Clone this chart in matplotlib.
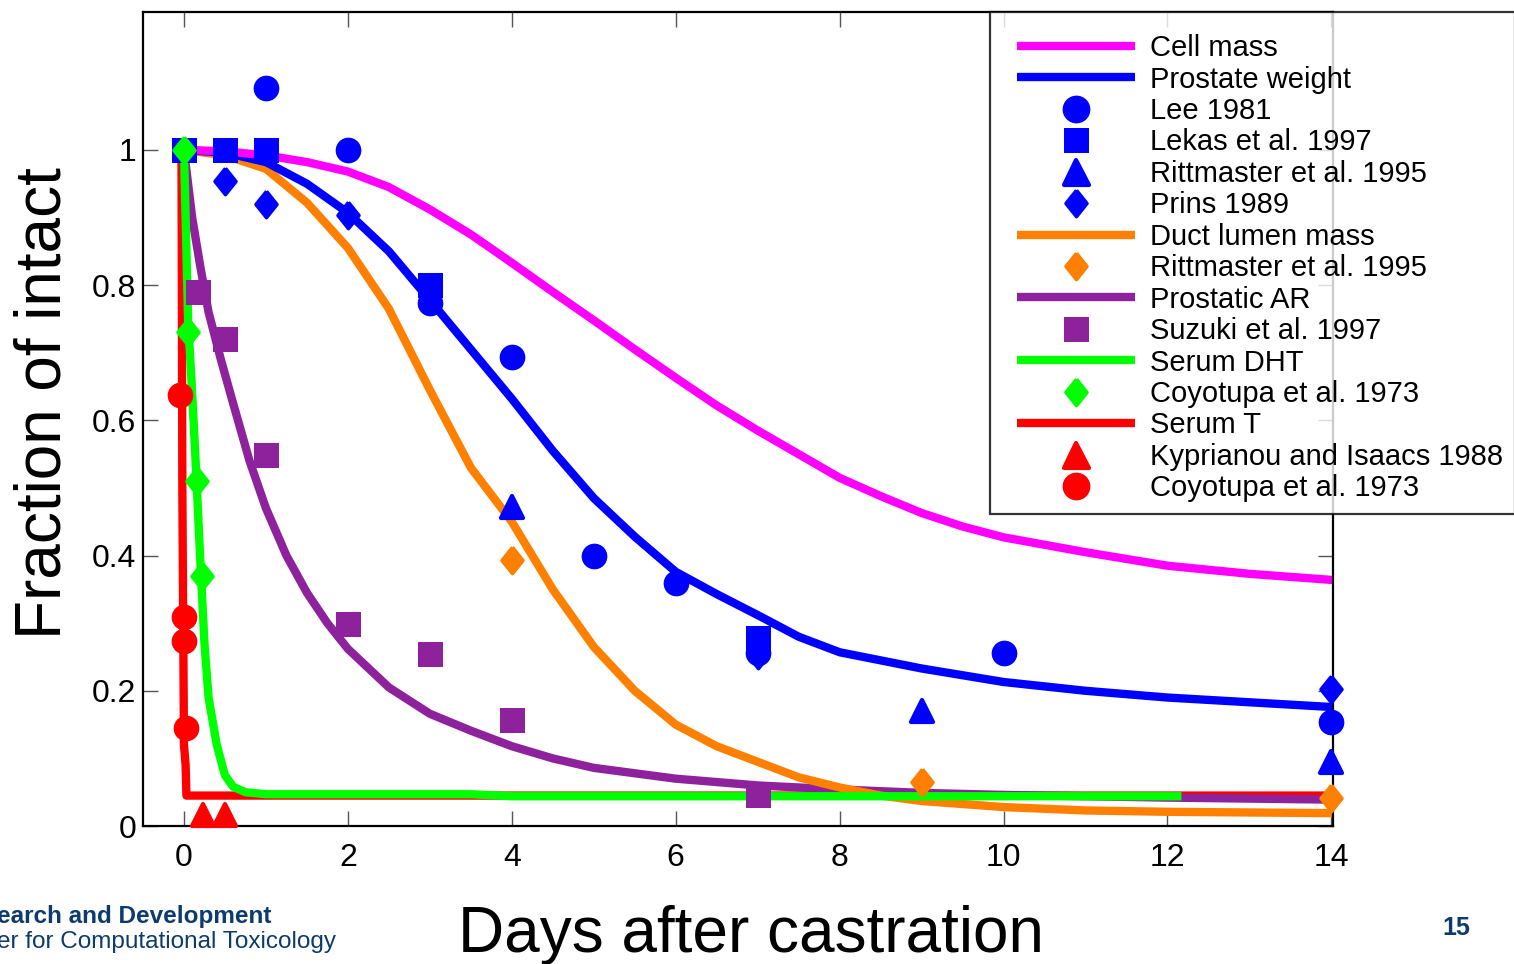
import matplotlib
matplotlib.use("Agg")
import matplotlib.pyplot as plt
from matplotlib.lines import Line2D
from matplotlib.markers import MarkerStyle
from matplotlib.legend_handler import HandlerLine2D

plt.rcParams['font.family'] = ['Liberation Sans', 'DejaVu Sans']

# model curves
cell_x = [0, 0.5, 1, 1.5, 2, 2.5, 3, 3.5, 4, 4.5, 5, 5.5, 6, 6.5, 7, 7.5, 8, 8.5, 9, 9.5, 10, 11, 12, 13, 14]
cell_y = [1.0, 0.998, 0.992, 0.982, 0.968, 0.945, 0.912, 0.875, 0.833, 0.79, 0.748, 0.705, 0.663, 0.622, 0.585, 0.55, 0.515, 0.488, 0.463, 0.443, 0.427, 0.405, 0.385, 0.373, 0.364]

prost_x = [0, 0.5, 1, 1.5, 2, 2.5, 3, 3.5, 4, 4.5, 5, 5.5, 6, 6.5, 7, 7.5, 8, 8.5, 9, 10, 11, 12, 13, 14]
prost_y = [1.0, 0.996, 0.982, 0.95, 0.907, 0.85, 0.778, 0.705, 0.632, 0.555, 0.485, 0.428, 0.376, 0.343, 0.312, 0.28, 0.257, 0.245, 0.233, 0.213, 0.2, 0.19, 0.183, 0.176]

duct_x = [0, 0.5, 1, 1.5, 2, 2.5, 3, 3.5, 4, 4.5, 5, 5.5, 6, 6.5, 7, 7.5, 8, 8.5, 9, 10, 11, 12, 13, 14]
duct_y = [1.0, 0.992, 0.972, 0.922, 0.855, 0.765, 0.645, 0.53, 0.45, 0.35, 0.265, 0.2, 0.15, 0.118, 0.095, 0.072, 0.057, 0.045, 0.037, 0.028, 0.023, 0.021, 0.02, 0.019]

ar_x = [0, 0.1, 0.2, 0.3, 0.45, 0.6, 0.8, 1.0, 1.25, 1.5, 1.75, 2, 2.5, 3, 3.5, 4, 4.5, 5, 6, 7, 8, 9, 10, 12, 14]
ar_y = [1.0, 0.9, 0.827, 0.76, 0.69, 0.625, 0.54, 0.47, 0.4, 0.345, 0.3, 0.262, 0.205, 0.166, 0.141, 0.118, 0.1, 0.086, 0.07, 0.06, 0.054, 0.049, 0.046, 0.042, 0.039]

dht_x = [0, 0.05, 0.1, 0.15, 0.2, 0.25, 0.3, 0.4, 0.5, 0.6, 0.75, 1.0, 3.5, 4.0, 12.12]
dht_y = [1.0, 0.75, 0.64, 0.52, 0.39, 0.27, 0.19, 0.12, 0.075, 0.058, 0.05, 0.047, 0.047, 0.044, 0.044]

t_x = [-0.03, -0.02, 0.0, 0.02, 0.03, 14]
t_y = [1.0, 0.5, 0.12, 0.09, 0.045, 0.045]

# data points
lee_x = [1, 2, 3, 4, 5, 6, 7, 10, 14]
lee_y = [1.092, 1.0, 0.774, 0.694, 0.40, 0.36, 0.256, 0.256, 0.154]
lekas_x = [0, 0.5, 1, 3, 7]
lekas_y = [1.0, 1.0, 1.0, 0.80, 0.278]
ritt_x = [4, 9, 14]
ritt_y = [0.472, 0.17, 0.095]
prins_x = [0.5, 1, 2, 7, 14]
prins_y = [0.954, 0.92, 0.904, 0.253, 0.203]
ritt_duct_x = [4, 9, 14]
ritt_duct_y = [0.393, 0.065, 0.041]
suzuki_x = [0, 0.17, 0.5, 1, 2, 3, 4, 7]
suzuki_y = [1.0, 0.79, 0.72, 0.549, 0.299, 0.254, 0.157, 0.046]
coy_dht_x = [0, 0.05, 0.16, 0.22]
coy_dht_y = [1.0, 0.73, 0.51, 0.37]
kyp_x = [0.23, 0.5]
kyp_y = [0.016, 0.016]
coy_t_x = [-0.05, 0.0, 0.0, 0.03]
coy_t_y = [0.638, 0.309, 0.274, 0.145]

magenta = '#ff00ff'
blue = '#0000ff'
orange = '#ff8000'
purple = '#8e229c'
green = '#00ff00'
red = '#ff0000'

# rounded triangle and tall diamond like the original
tri = MarkerStyle('^', joinstyle='round')
dia = MarkerStyle([(0, 1), (0.8, 0), (0, -1), (-0.8, 0), (0, 1)], joinstyle='round')

fig = plt.figure(figsize=(15.14, 9.64), dpi=100)
ax = fig.add_axes([143 / 1514, 138 / 964, (1333 - 143) / 1514, (826 - 12) / 964])

lw = 6
ax.plot(t_x, t_y, color=red, lw=lw, solid_joinstyle='round', zorder=2)
ax.plot(ar_x, ar_y, color=purple, lw=lw, zorder=2)
ax.plot(duct_x, duct_y, color=orange, lw=lw, zorder=2)
ax.plot(dht_x, dht_y, color=green, lw=lw, zorder=3)
ax.plot(prost_x, prost_y, color=blue, lw=lw, zorder=2)
ax.plot(cell_x, cell_y, color=magenta, lw=lw, zorder=2)

pts = dict(linestyle='none', clip_on=False, zorder=4)
ax.plot(suzuki_x, suzuki_y, 's', color=purple, ms=18, mew=0, **pts)
ax.plot(coy_t_x, coy_t_y, 'o', color=red, ms=18.5, mew=0, **pts)
ax.plot(kyp_x, kyp_y, marker=tri, color=red, ms=16.5, mew=3, **pts)
ax.plot(lee_x, lee_y, 'o', color=blue, ms=18.5, mew=0, **pts)
ax.plot(lekas_x, lekas_y, 's', color=blue, ms=18, mew=0, **pts)
ax.plot(ritt_x, ritt_y, marker=tri, color=blue, ms=16.5, mew=3, **pts)
ax.plot(prins_x, prins_y, marker=dia, color=blue, ms=19, mew=2.5, **pts)
ax.plot(ritt_duct_x, ritt_duct_y, marker=dia, color=orange, ms=19, mew=2.5, **pts)
ax.plot(coy_dht_x, coy_dht_y, marker=dia, color=green, ms=19, mew=2.5, **pts)

ax.set_xlim(-0.5, 14.02)
ax.set_ylim(0, 1.204)
ax.set_xticks([0, 2, 4, 6, 8, 10, 12, 14])
ax.set_yticks([0, 0.2, 0.4, 0.6, 0.8, 1])
ax.set_yticklabels(['0', '0.2', '0.4', '0.6', '0.8', '1'])
ax.tick_params(direction='in', length=11, width=1, color='#555555', labelsize=23,
               top=True, right=True)
ax.tick_params(axis='x', pad=12)
ax.tick_params(axis='y', pad=5)
for s in ax.spines.values():
    s.set_linewidth(1.6)

ax.set_xlabel('Days after castration', fontsize=46)
ax.set_ylabel('Fraction of intact', fontsize=46)
ax.xaxis.set_label_coords(0.511, -0.097)
ax.yaxis.set_label_coords(-0.0585, 0.52)

lm = dict(linestyle='none')
lh = dict(lw=lw, solid_capstyle='butt')
handles = [
    Line2D([], [], color=magenta, **lh),
    Line2D([], [], color=blue, **lh),
    Line2D([], [], color=blue, marker='o', ms=20, mew=0, **lm),
    Line2D([], [], color=blue, marker='s', ms=18, mew=0, **lm),
    Line2D([], [], color=blue, marker=tri, ms=18, mew=3, **lm),
    Line2D([], [], color=blue, marker=dia, ms=19, mew=2.5, **lm),
    Line2D([], [], color=orange, **lh),
    Line2D([], [], color=orange, marker=dia, ms=19, mew=2.5, **lm),
    Line2D([], [], color=purple, **lh),
    Line2D([], [], color=purple, marker='s', ms=18, mew=0, **lm),
    Line2D([], [], color=green, **lh),
    Line2D([], [], color=green, marker=dia, ms=19, mew=2.5, **lm),
    Line2D([], [], color=red, **lh),
    Line2D([], [], color=red, marker=tri, ms=18, mew=3, **lm),
    Line2D([], [], color=red, marker='o', ms=20, mew=0, **lm),
]
labels = ['Cell mass', 'Prostate weight', 'Lee 1981', 'Lekas et al. 1997',
          'Rittmaster et al. 1995', 'Prins 1989', 'Duct lumen mass',
          'Rittmaster et al. 1995', 'Prostatic AR', 'Suzuki et al. 1997',
          'Serum DHT', 'Coyotupa et al. 1973', 'Serum T',
          'Kyprianou and Isaacs 1988', 'Coyotupa et al. 1973']
leg = fig.legend(handles, labels, loc='upper left',
                 bbox_to_anchor=(990 / 1514, 1 - 12 / 964), fontsize=21,
                 frameon=True, fancybox=False, edgecolor='black',
                 labelspacing=0.118, handlelength=4.57, handletextpad=0.515,
                 borderpad=0.4, borderaxespad=0,
                 title=' ', title_fontsize=6,
                 handler_map={Line2D: HandlerLine2D(xpad=0.526)})
leg.get_frame().set_linewidth(1.6)

navy = '#0d3b6e'
fig.text(-0.002, 1 - 916 / 964, 'earch and Development', fontsize=17.5, fontweight='bold',
         color=navy, va='center', ha='left')
fig.text(-0.002, 1 - 942 / 964, 'er for Computational Toxicology', fontsize=17.5,
         color=navy, va='center', ha='left')
fig.text(1456 / 1514, 1 - 928 / 964, '15', fontsize=18, fontweight='bold',
         color=navy, va='center', ha='center')

fig.savefig('out.png', dpi=100)
